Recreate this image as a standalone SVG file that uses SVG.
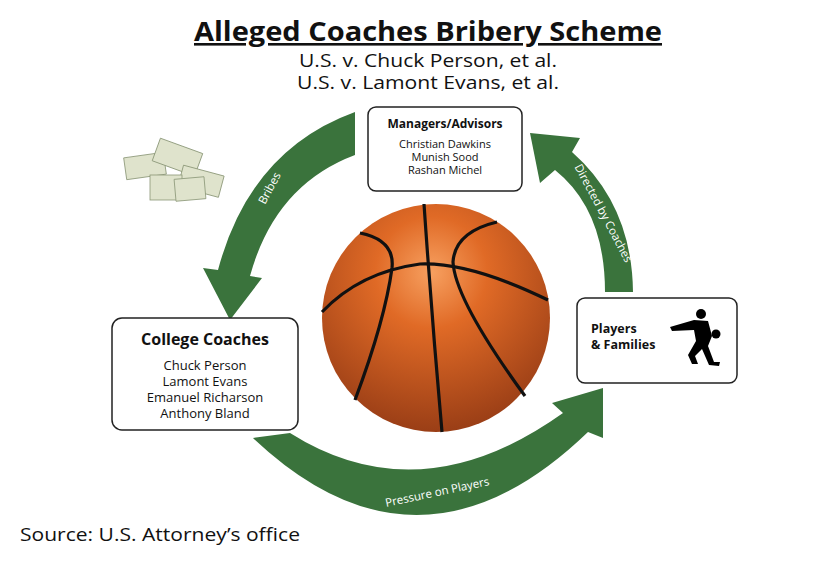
<svg xmlns="http://www.w3.org/2000/svg" width="840" height="570" viewBox="0 0 840 570">
<defs>
<radialGradient id="ball" cx="0.48" cy="0.3" r="0.7">
<stop offset="0" stop-color="#f7a060"/><stop offset="0.35" stop-color="#e06a26"/><stop offset="1" stop-color="#9a3e16"/>
</radialGradient>
<style>
text{font-family:"Open Sans","Lato",sans-serif;fill:#111}
.box{fill:#fff;stroke:#222;stroke-width:1.5}
.arr{fill:#3a733c}
.seam{fill:none;stroke:#111;stroke-width:3.2}
.lbl{fill:#fff;font-size:11.5px}
.bill{fill:#dfe3cc;stroke:#8a9676;stroke-width:0.8}
</style>
</defs>
<rect width="840" height="570" fill="#fff"/>
<text x="428" y="41" font-size="26" font-weight="bold" text-anchor="middle" text-decoration="underline" textLength="468" lengthAdjust="spacingAndGlyphs">Alleged Coaches Bribery Scheme</text>
<text x="428" y="67" font-size="19" text-anchor="middle" textLength="258" lengthAdjust="spacingAndGlyphs">U.S. v. Chuck Person, et al.</text>
<text x="428" y="89" font-size="19" text-anchor="middle" textLength="262" lengthAdjust="spacingAndGlyphs">U.S. v. Lamont Evans, et al.</text>
<g id="money">
<rect class="bill" x="125" y="155" width="40" height="22" transform="rotate(-8 145 166)"/>
<rect class="bill" x="155" y="145" width="45" height="24" transform="rotate(20 177 157)"/>
<rect class="bill" x="180" y="170" width="42" height="22" transform="rotate(15 200 181)"/>
<rect class="bill" x="150" y="175" width="32" height="25"/>
<rect class="bill" x="175" y="178" width="30" height="22" transform="rotate(-5 190 189)"/>
</g>
<g id="ball-g">
<circle cx="436" cy="318" r="114" fill="url(#ball)"/>
<path class="seam" d="M424,204 Q432,320 442,432"/>
<path class="seam" d="M322,312 Q360,272 420,264 Q470,262 548,300"/>
<path class="seam" d="M360,233 Q395,240 392,268 Q385,320 355,400"/>
<path class="seam" d="M497,222 Q455,232 453,262 Q455,300 525,396"/>
</g>
<g id="connectors">
<path class="arr" d="M355,112 Q250,150 218,270 L203,268 L230,320 L262,278 L250,276 Q275,185 355,155 Z"/>
<text class="lbl" transform="translate(273,190) rotate(-62)" text-anchor="middle">Bribes</text>
<path class="arr" d="M605,292 Q605,210 555,170 L540,183 L530,133 L580,138 L572,152 Q632,205 633,292 Z"/>
<text class="lbl" transform="translate(600,215) rotate(62)" text-anchor="middle">Directed by Coaches</text>
<path class="arr" d="M290,433 Q420,515 563,413 L552,403 L603,388 L603,438 L588,432 Q419,595 253,438 Z"/>
<text class="lbl" transform="translate(438,496) rotate(-12)" text-anchor="middle">Pressure on Players</text>
</g>
<g id="managers">
<rect class="box" x="368" y="107" width="154" height="84" rx="8"/>
<text x="445" y="128" font-size="12" font-weight="bold" text-anchor="middle">Managers/Advisors</text>
<text x="445" y="148" font-size="11" text-anchor="middle">Christian Dawkins</text>
<text x="445" y="161" font-size="11" text-anchor="middle">Munish Sood</text>
<text x="445" y="174" font-size="11" text-anchor="middle">Rashan Michel</text>
</g>
<g id="coaches">
<rect class="box" x="112" y="318" width="186" height="112" rx="10"/>
<text x="205" y="345" font-size="16" font-weight="bold" text-anchor="middle">College Coaches</text>
<text x="205" y="370" font-size="13" text-anchor="middle">Chuck Person</text>
<text x="205" y="386" font-size="13" text-anchor="middle">Lamont Evans</text>
<text x="205" y="402" font-size="13" text-anchor="middle">Emanuel Richarson</text>
<text x="205" y="418" font-size="13" text-anchor="middle">Anthony Bland</text>
</g>
<g id="players">
<rect class="box" x="577" y="298" width="160" height="85" rx="8"/>
<text x="591" y="333" font-size="12.5" font-weight="bold">Players</text>
<text x="591" y="349" font-size="12.5" font-weight="bold">&amp; Families</text>
<g fill="#000">
<circle cx="701" cy="314" r="5"/>
<path d="M694,320 L708,321 L712,336 L708,346 L714,362 L720,362 L719,366 L709,365 L702,349 L695,356 L698,364 L692,364 L688,355 L696,341 L694,330 L672,331 L670,327 Z"/>
<circle cx="716" cy="334" r="4.5"/>
</g>
</g>
<text x="20" y="541" font-size="19" textLength="280" lengthAdjust="spacingAndGlyphs">Source: U.S. Attorney’s office</text>
</svg>
